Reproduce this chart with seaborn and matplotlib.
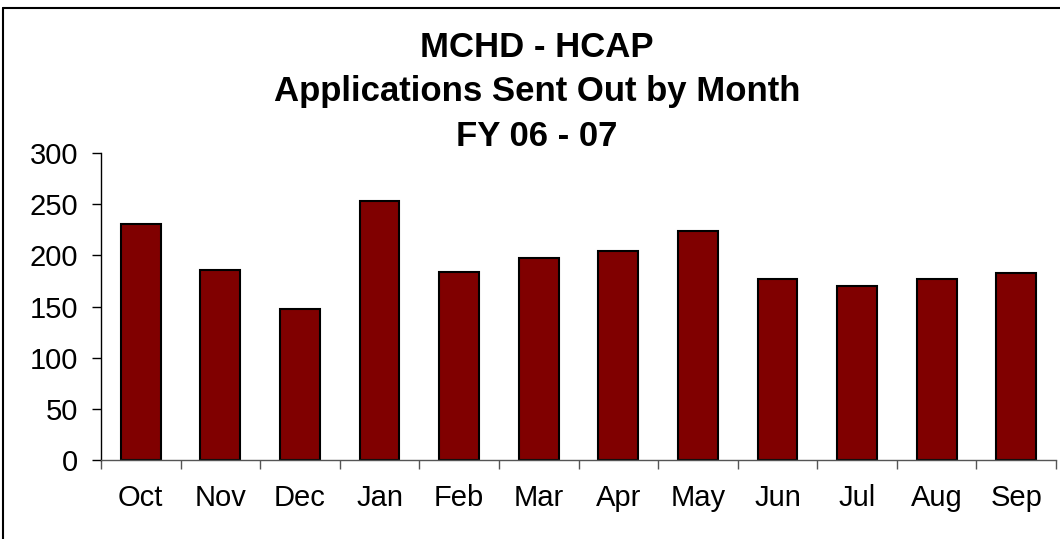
import numpy as np
import pandas as pd
import matplotlib
matplotlib.use('Agg')
import matplotlib.pyplot as plt
from matplotlib.lines import Line2D
import seaborn as sns

months = ['Oct', 'Nov', 'Dec', 'Jan', 'Feb', 'Mar', 'Apr', 'May', 'Jun', 'Jul', 'Aug', 'Sep']
applications = [231, 186, 148, 253, 184, 197, 204, 224, 177, 170, 177, 183]
title = 'MCHD - HCAP\nApplications Sent Out by Month\nFY 06 - 07'

df = pd.DataFrame({'Month': months, 'Applications': applications})

sns.set_style('ticks')
plt.rcParams['font.family'] = ['Liberation Sans', 'DejaVu Sans']

W, H = 1060, 539
fig = plt.figure(figsize=(W / 100, H / 100), dpi=100)
ax = fig.add_axes([101 / W, 1 - 460 / H, (1056 - 101) / W, (460 - 153) / H])

sns.barplot(data=df, x='Month', y='Applications', color='#800000',
            width=0.5, edgecolor='black', linewidth=1.5, saturation=1, ax=ax)

ax.set_xlim(-0.5, len(months) - 0.5)
ax.set_ylim(0, 300)
ax.set_yticks(range(0, 301, 50))
ax.set_xlabel('')
ax.set_ylabel('')

# ticks sit between categories
ax.set_xticks(np.arange(-0.5, len(months), 1), minor=False)
ax.set_xticklabels([])
ax.set_xticks(range(len(months)), minor=True)
ax.set_xticklabels(months, minor=True)
ax.tick_params(axis='x', which='major', length=6.5, width=1, direction='out', color='#555555')
ax.tick_params(axis='x', which='minor', length=0, labelsize=21, pad=17, labelcolor='black')
ax.tick_params(axis='y', length=6.5, width=1, direction='out', color='black',
               labelsize=21, pad=10, labelcolor='black')

sns.despine(ax=ax)
ax.spines['left'].set_color('black')
ax.spines['bottom'].set_color('#555555')
ax.spines['left'].set_linewidth(1)
ax.spines['bottom'].set_linewidth(1)

fig.text(0.5 + 7 / W, 1 - 92 / H, title, ha='center', va='center', color='black',
         fontsize=25, fontweight='bold', linespacing=1.45)

# frame on left and top edges
fig.add_artist(Line2D([3 / W, 3 / W], [0, 1 - 8 / H], transform=fig.transFigure,
                      color='black', lw=1.5))
fig.add_artist(Line2D([3 / W, 1], [1 - 8 / H, 1 - 8 / H], transform=fig.transFigure,
                      color='black', lw=1.5))

fig.savefig('out.png', dpi=100)
